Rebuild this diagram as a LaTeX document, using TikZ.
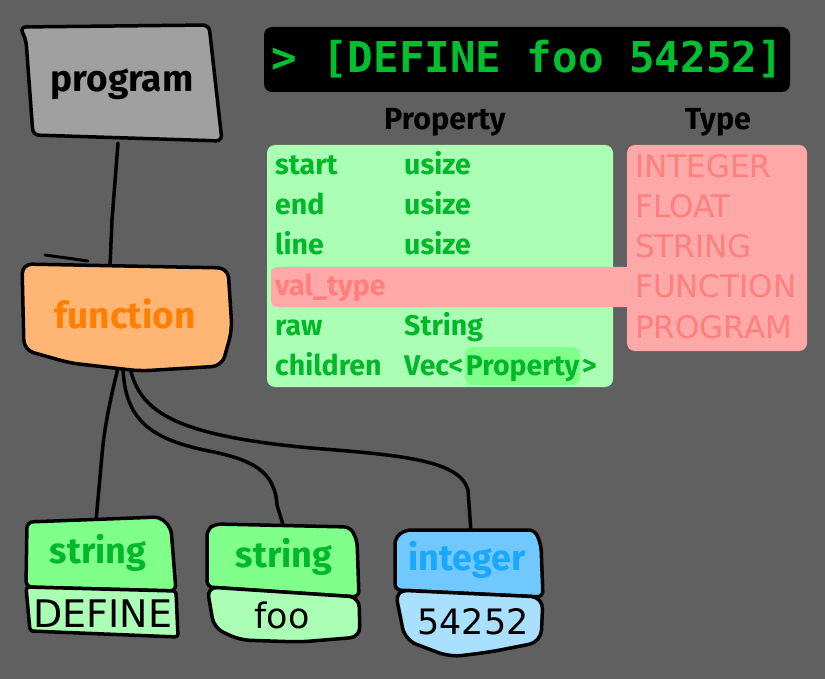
\documentclass[tikz,border=0pt]{standalone}
\usepackage{fontspec}
\setmainfont{Fira Sans}
\newfontfamily\monof{DejaVu Sans Mono}
\newfontfamily\dejav{DejaVu Sans}
\definecolor{bgc}{HTML}{606060}
\definecolor{progc}{HTML}{A0A0A0}
\definecolor{funcf}{HTML}{FFB574}
\definecolor{funct}{HTML}{FF7F00}
\definecolor{gtop}{HTML}{80FF8A}
\definecolor{glight}{HTML}{AAFFB4}
\definecolor{gtext}{HTML}{00B82A}
\definecolor{rpan}{HTML}{FFA8A8}
\definecolor{rtext}{HTML}{FF7F7F}
\definecolor{btop}{HTML}{70C8FF}
\definecolor{blight}{HTML}{AAE0FF}
\definecolor{btext}{HTML}{1AA8FF}
\definecolor{termg}{HTML}{00C030}
\pgfdeclarelayer{bg}
\pgfdeclarelayer{conn}
\pgfsetlayers{bg,conn,main}
\begin{document}
\begin{tikzpicture}[x=1pt,y=-1pt,line join=round,line cap=round,
  box/.style={line width=3.5pt,draw=black,rounded corners=6pt},
  wire/.style={line width=3.5pt,draw=black,line cap=round},
  big/.style={anchor=base,inner sep=0pt,font=\fontsize{37}{37}\selectfont\bfseries},
  lbl/.style={anchor=base,inner sep=0pt,font=\fontsize{36}{36}\selectfont\bfseries},
  val/.style={anchor=base,inner sep=0pt,text=black,font=\dejav\fontsize{35}{35}\selectfont},
  row/.style={anchor=base west,inner sep=0pt,text=gtext,font=\fontsize{28.5}{28.5}\selectfont\bfseries},
  rrow/.style={anchor=base west,inner sep=0pt,text=rtext,font=\dejav\fontsize{31}{31}\selectfont},
  head/.style={anchor=base,inner sep=0pt,text=black,font=\fontsize{30.5}{30.5}\selectfont\bfseries}]
\useasboundingbox (0,0) rectangle (825,679);
\begin{pgfonlayer}{bg}
\fill[bgc] (0,0) rectangle (825,679);
\end{pgfonlayer}

% ---- program box
\path[box,fill=progc] (20,27) -- (209,25) -- (222,141) -- (33,135) -- (26,40) -- cycle;
\node[big,text=black] (prog) at (122,92) {program};
% ---- function box
\path[box,fill=funcf,rounded corners=10pt] (22,264) -- (228,268) -- (232,330) -- (222,366) -- (140,371) -- (70,363) -- (24,350) -- cycle;
\draw[line width=3pt] (45,255) -- (88,261);
\node[big,text=funct] (func) at (125,328) {function};

% ---- string 1
\path[box,fill=gtop] (27,522) -- (160,517) -- (171,528) -- (176,591) -- (26,587) -- cycle;
\path[box,fill=glight,rounded corners=3pt] (26,587) -- (176,591) -- (178,637) -- (30,631) -- cycle;
\node[lbl,text=gtext] (s1) at (98,563) {string};
\node[val,font=\dejav\fontsize{38}{38}\selectfont] (s1v) at (103,627) {DEFINE};
% ---- string 2
\path[box,fill=gtop] (207,530) -- (215,524) -- (350,527) -- (357,540) -- (359,597) -- (207,587) -- cycle;
\path[box,fill=glight,rounded corners=10pt] (207,587) -- (359,597) -- (360,637) -- (300,642) -- (240,640) -- (214,628) -- cycle;
\node[lbl,text=gtext] (s2) at (284,567) {string};
\node[val] (s2v) at (282,628) {foo};
% ---- integer
\path[box,fill=btop] (395,538) -- (405,530) -- (535,530) -- (541,545) -- (543,597) -- (395,590) -- cycle;
\path[box,fill=blight,rounded corners=12pt] (395,590) -- (543,597) -- (541,642) -- (490,652) -- (450,657) -- (405,640) -- cycle;
\node[lbl,text=btext] (int) at (467,570) {integer};
\node[val] (intv) at (473,634) {54252};

% ---- connectors
\coordinate (progB) at (118,143);
\coordinate (funcT) at (110,266);
\coordinate (funcB1) at (118,368);
\coordinate (funcB2) at (123,368);
\coordinate (funcB3) at (130,368);
\coordinate (s1T) at (96,521);
\coordinate (s2T) at (284,528);
\coordinate (intT) at (471,532);
\begin{pgfonlayer}{conn}
\draw[wire] (progB) -- (112,220) -- (funcT);
\draw[wire] (funcB1) .. controls (110,400) and (104,430) .. (102,455) -- (s1T);
\draw[wire] (funcB2) .. controls (125,420) and (150,440) .. (214,452) .. controls (250,460) and (275,470) .. (277,505) -- (s2T);
\draw[wire] (funcB3) .. controls (140,410) and (170,435) .. (311,448) .. controls (400,455) and (460,460) .. (468,490) -- (intT);
\end{pgfonlayer}

% ---- terminal
\fill[black,rounded corners=8pt] (264,27) rectangle (790,92);
\node[anchor=base,inner sep=0pt,text=termg,font=\monof\bfseries\fontsize{42.5}{42.5}\selectfont] (term) at (527,73) {> [DEFINE foo 54252]};

% ---- headers
\node[head] (hprop) at (445,130) {Property};
\node[head] (htype) at (718,130) {Type};

% ---- panels
\fill[glight,rounded corners=8pt] (267,145) rectangle (613,387);
\fill[rpan,rounded corners=8pt] (627,145) rectangle (807,351);
\fill[rpan,rounded corners=6pt] (271,267) rectangle (640,307);

\node[row] (r1a) at (275,175) {start};
\node[row] (r1b) at (404,175) {usize};
\node[row] (r2a) at (275,215) {end};
\node[row] (r2b) at (404,215) {usize};
\node[row] (r3a) at (275,255) {line};
\node[row] (r3b) at (404,255) {usize};
\node[row,text=rtext] (r4a) at (275,295) {val\_type};
\node[row] (r5a) at (275,335) {raw};
\node[row] (r5b) at (404,335) {String};
\node[row] (r6a) at (275,375) {children};
\node[row] (r6b) at (404,375) {Vec<};
\node[row,fill=gtop,rounded corners=8pt,inner xsep=1pt,inner ysep=0pt,text depth=10pt,text height=28pt] (r6c) at ([xshift=1pt]r6b.base east) {Property};
\node[row] (r6d) at ([xshift=1pt]r6c.base east) {>};

\node[rrow] (t1) at (635,178) {INTEGER};
\node[rrow] (t2) at (635,218) {FLOAT};
\node[rrow] (t3) at (635,258) {STRING};
\node[rrow] (t4) at (635,298) {FUNCTION};
\node[rrow] (t5) at (635,338) {PROGRAM};
\end{tikzpicture}
\end{document}
